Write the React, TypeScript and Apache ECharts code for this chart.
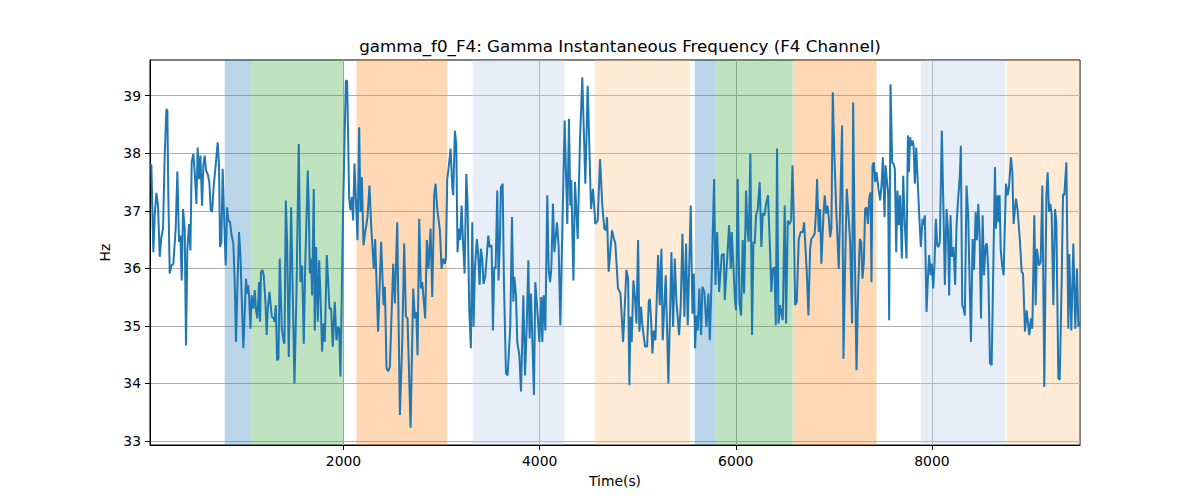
import React, { useEffect, useRef } from "react";
import * as echarts from "echarts";

const titleText = "gamma_f0_F4: Gamma Instantaneous Frequency (F4 Channel)";
const xName = "Time(s)";
const yName = "Hz";
const xTickValues = [2000, 4000, 6000, 8000];
const yTickValues = [33, 34, 35, 36, 37, 38, 39];

const times = [
  27, 41, 61, 75, 92, 109, 126, 143, 160, 177, 194, 204, 214, 228, 245, 265, 289, 306, 323, 337,
  350, 364, 381, 394, 408, 425, 439, 452, 469, 486, 500, 513, 527, 541, 558, 571, 585, 598, 615, 632,
  646, 660, 677, 697, 717, 731, 741, 755, 768, 782, 799, 813, 826, 843, 860, 877, 891, 904, 918, 935,
  949, 966, 979, 993, 1006, 1017, 1027, 1037, 1051, 1064, 1081, 1095, 1108, 1122, 1139, 1149, 1159, 1173, 1187, 1204,
  1217, 1228, 1245, 1269, 1289, 1296, 1310, 1323, 1337, 1350, 1371, 1391, 1398, 1412, 1425, 1442, 1466, 1483, 1500, 1520,
  1544, 1561, 1578, 1595, 1609, 1636, 1646, 1656, 1670, 1680, 1697, 1707, 1721, 1738, 1752, 1765, 1782, 1796, 1809, 1830,
  1857, 1874, 1891, 1911, 1928, 1945, 1956, 1969, 1996, 2024, 2037, 2058, 2071, 2085, 2098, 2112, 2143, 2160, 2173, 2187,
  2204, 2221, 2245, 2265, 2282, 2309, 2323, 2353, 2384, 2408, 2422, 2439, 2456, 2473, 2507, 2524, 2548, 2575, 2599, 2619,
  2636, 2653, 2684, 2711, 2728, 2742, 2755, 2772, 2789, 2803, 2833, 2850, 2867, 2888, 2905, 2925, 2939, 2956, 2983, 3000,
  3017, 3034, 3044, 3058, 3071, 3092, 3109, 3119, 3136, 3150, 3163, 3177, 3190, 3204, 3221, 3235, 3252, 3265, 3282, 3299,
  3313, 3326, 3340, 3360, 3374, 3388, 3401, 3415, 3428, 3445, 3462, 3476, 3490, 3510, 3524, 3537, 3551, 3568, 3581, 3595,
  3605, 3623, 3636, 3657, 3674, 3701, 3718, 3732, 3742, 3759, 3772, 3793, 3810, 3823, 3834, 3851, 3868, 3885, 3898, 3912,
  3925, 3942, 3956, 3973, 3997, 4017, 4027, 4041, 4058, 4078, 4092, 4106, 4119, 4136, 4150, 4177, 4194, 4211, 4255, 4282,
  4299, 4313, 4323, 4344, 4361, 4388, 4412, 4435, 4466, 4490, 4524, 4544, 4568, 4592, 4616, 4639, 4660, 4677, 4687, 4704,
  4738, 4758, 4772, 4799, 4810, 4824, 4851, 4885, 4902, 4915, 4926, 4939, 4956, 4973, 4987, 5004, 5017, 5034, 5048, 5075,
  5096, 5113, 5123, 5136, 5150, 5164, 5181, 5208, 5225, 5242, 5255, 5286, 5313, 5344, 5361, 5378, 5395, 5422, 5439, 5456,
  5476, 5493, 5510, 5541, 5558, 5572, 5585, 5599, 5612, 5629, 5646, 5660, 5680, 5701, 5721, 5735, 5752, 5779, 5793, 5810,
  5830, 5857, 5878, 5888, 5932, 5949, 5959, 5993, 6003, 6020, 6037, 6054, 6071, 6085, 6105, 6119, 6132, 6149, 6166, 6180,
  6193, 6207, 6224, 6244, 6261, 6275, 6292, 6309, 6329, 6350, 6363, 6377, 6394, 6408, 6421, 6435, 6452, 6465, 6479, 6499,
  6513, 6530, 6547, 6564, 6578, 6591, 6605, 6622, 6642, 6663, 6683, 6697, 6710, 6724, 6741, 6758, 6771, 6785, 6805, 6819,
  6829, 6846, 6860, 6873, 6894, 6907, 6921, 6935, 6948, 6962, 6975, 6989, 7006, 7023, 7050, 7064, 7084, 7098, 7115, 7132,
  7152, 7166, 7186, 7197, 7214, 7231, 7248, 7265, 7279, 7292, 7306, 7319, 7333, 7347, 7360, 7374, 7384, 7394, 7408, 7421,
  7435, 7455, 7472, 7486, 7500, 7517, 7527, 7540, 7554, 7564, 7578, 7595, 7608, 7622, 7636, 7649, 7663, 7676, 7693, 7707,
  7724, 7741, 7755, 7765, 7778, 7789, 7802, 7812, 7826, 7840, 7857, 7870, 7887, 7904, 7914, 7928, 7945, 7962, 7972, 7986,
  7999, 8013, 8027, 8040, 8054, 8067, 8081, 8101, 8118, 8132, 8149, 8163, 8176, 8190, 8203, 8220, 8237, 8251, 8265, 8285,
  8295, 8309, 8322, 8336, 8353, 8370, 8380, 8398, 8415, 8429, 8446, 8459, 8473, 8487, 8500, 8517, 8531, 8548, 8561, 8575,
  8592, 8609, 8626, 8643, 8653, 8670, 8680, 8690, 8701, 8714, 8731, 8755, 8772, 8786, 8806, 8820, 8833, 8857, 8874, 8898,
  8915, 8929, 8949, 8966, 8993, 9010, 9024, 9044, 9058, 9071, 9092, 9109, 9126, 9146, 9167, 9180, 9194, 9207, 9221, 9238,
  9255, 9269, 9289, 9303, 9323, 9337, 9350, 9371, 9391, 9401, 9422, 9442, 9462, 9479, 9493, 9510,
];

const values = [
  37.82, 37.79, 36.28, 36.92, 37.31, 37.09, 36.2, 36.54, 36.69, 37.96, 38.77, 38.74, 37.27, 35.91, 36.05, 36.08, 36.69, 37.68, 36.46, 36.57,
  35.79, 37.03, 36.69, 34.66, 36.34, 36.77, 36.31, 37.84, 37.99, 37.58, 37.12, 38.1, 37.55, 37.96, 37.09, 37.79, 37.96, 37.7, 37.64, 37.5,
  37.01, 36.98, 37.44, 37.79, 38.19, 37.79, 36.37, 36.46, 37.73, 36.92, 36.05, 37.06, 36.83, 36.8, 36.57, 36.43, 35.76, 34.72, 35.65, 36.63,
  36.23, 35.3, 34.61, 35.24, 35.82, 35.56, 35.71, 35.53, 34.95, 35.53, 35.3, 35.62, 35.27, 35.13, 35.76, 35.07, 35.94, 35.97, 35.88, 35.42,
  34.84, 35.3, 35.59, 35.16, 35.13, 35.07, 35.36, 34.4, 34.43, 36.17, 34.95, 34.72, 34.69, 37.18, 36.46, 34.46, 37.06, 35.53, 34.0, 35.53,
  38.16, 35.76, 36.05, 34.69, 35.99, 37.7, 37.09, 35.91, 36.17, 35.53, 37.38, 34.92, 36.37, 35.07, 36.14, 35.53, 34.55, 35.04, 34.72, 36.23,
  35.3, 35.3, 34.64, 35.42, 34.75, 34.98, 34.95, 34.12, 37.03, 39.26, 39.26, 37.21, 37.01, 37.24, 36.83, 37.82, 36.49, 38.45, 36.98, 37.58,
  36.4, 36.63, 36.89, 37.44, 36.75, 35.99, 36.51, 34.9, 36.46, 35.36, 35.68, 34.26, 34.21, 34.29, 36.08, 35.39, 36.8, 33.45, 34.72, 36.43,
  35.16, 35.13, 33.23, 35.65, 35.13, 35.24, 34.49, 36.86, 35.65, 35.76, 35.13, 36.49, 35.99, 36.69, 35.5, 37.27, 37.47, 37.03, 36.66, 35.99,
  36.17, 36.08, 36.17, 37.55, 37.73, 38.08, 37.41, 37.27, 38.39, 38.16, 36.28, 36.69, 36.49, 37.09, 36.37, 35.91, 37.64, 37.15, 35.3, 34.61,
  36.8, 34.98, 35.99, 36.51, 36.23, 35.71, 36.34, 36.17, 35.73, 35.85, 36.23, 36.57, 36.37, 36.4, 34.92, 36.02, 35.99, 37.35, 35.79, 36.51,
  37.41, 37.47, 35.76, 34.17, 34.14, 35.01, 36.89, 35.42, 35.85, 35.53, 34.72, 34.49, 33.86, 34.78, 35.53, 34.14, 34.98, 36.14, 34.78, 35.56,
  34.81, 33.8, 35.76, 35.36, 34.72, 35.5, 34.72, 35.53, 34.92, 37.27, 35.99, 35.76, 35.99, 37.12, 36.28, 36.8, 36.37, 35.01, 38.57, 36.77,
  38.6, 37.09, 37.53, 35.79, 37.5, 36.51, 38.25, 39.32, 37.47, 39.17, 37.03, 37.38, 36.77, 36.83, 37.9, 37.09, 36.69, 36.66, 36.89, 35.94,
  36.66, 36.51, 36.43, 35.65, 35.62, 35.56, 34.72, 35.97, 35.82, 33.97, 35.16, 34.72, 35.79, 35.47, 35.04, 36.49, 34.9, 35.33, 35.01, 34.64,
  34.64, 35.42, 35.47, 35.13, 34.52, 34.92, 34.75, 36.23, 35.36, 36.34, 34.75, 35.88, 34.0, 36.28, 34.98, 36.17, 35.42, 34.84, 35.36, 36.6,
  35.16, 36.43, 35.01, 37.09, 35.21, 35.91, 34.61, 35.18, 34.92, 35.65, 34.84, 35.68, 35.59, 34.98, 35.56, 34.75, 35.71, 37.55, 35.71, 36.63,
  35.59, 36.23, 36.25, 35.45, 36.75, 35.99, 36.63, 35.42, 35.27, 37.55, 35.42, 35.18, 36.49, 35.56, 37.35, 36.69, 36.46, 37.99, 34.84, 36.46,
  36.43, 36.92, 37.03, 37.5, 36.37, 36.95, 36.92, 37.12, 37.27, 36.28, 35.59, 35.99, 36.02, 35.01, 38.08, 35.04, 35.36, 35.21, 35.1, 37.09,
  35.04, 36.83, 36.77, 36.83, 37.79, 36.92, 35.36, 35.42, 36.51, 36.63, 36.63, 36.8, 36.37, 35.94, 35.18, 36.34, 36.51, 36.54, 36.6, 37.03,
  37.55, 36.63, 37.03, 36.08, 36.92, 37.27, 36.95, 37.09, 36.89, 36.54, 36.69, 39.06, 37.93, 37.09, 35.99, 37.03, 38.48, 34.43, 36.05, 37.38,
  36.86, 36.46, 35.04, 38.88, 36.23, 34.23, 35.65, 36.51, 36.46, 35.82, 36.11, 37.03, 37.06, 36.77, 37.21, 37.32, 35.76, 37.79, 37.84, 37.5,
  37.67, 37.38, 37.18, 37.44, 37.93, 36.89, 37.79, 37.55, 37.29, 35.1, 39.2, 37.84, 37.82, 37.73, 36.28, 37.35, 36.75, 37.27, 36.17, 37.61,
  36.75, 36.17, 38.31, 37.67, 38.28, 38.13, 38.22, 38.16, 37.47, 38.1, 37.44, 36.95, 36.37, 36.86, 36.75, 36.92, 35.24, 35.94, 36.23, 35.88,
  36.08, 35.65, 36.11, 36.86, 36.4, 36.37, 36.46, 38.39, 37.01, 35.71, 37.03, 36.69, 35.53, 36.92, 36.2, 36.37, 35.71, 36.75, 37.15, 37.61,
  38.13, 35.36, 35.3, 35.18, 37.44, 36.92, 36.11, 34.72, 36.51, 35.97, 36.98, 36.49, 37.12, 36.54, 35.13, 36.92, 35.88, 36.4, 36.43, 35.94,
  34.35, 34.32, 36.02, 37.76, 36.69, 37.27, 36.8, 37.27, 36.34, 36.08, 35.88, 37.47, 37.27, 37.41, 37.93, 37.67, 36.77, 37.21, 37.01, 36.46,
  35.94, 35.91, 34.9, 35.27, 34.84, 35.13, 34.95, 36.92, 35.36, 36.34, 36.05, 36.11, 37.44, 33.94, 37.27, 37.67, 36.98, 37.12, 36.95, 35.36,
  37.03, 36.8, 34.09, 34.06, 35.76, 37.29, 37.27, 37.84, 34.95, 36.25, 34.92, 36.43, 34.95, 35.99, 34.98, 35.07,
];

const bandStarts = [789, 1054, 2132, 3316, 4561, 5582, 5789, 6584, 7887, 8762];
const bandEnds = [1054, 2003, 3058, 4252, 5531, 5789, 6581, 7435, 8748, 9510];
const bandKinds = [0, 1, 2, 3, 4, 0, 1, 2, 3, 4];
const bandColors = [
  "rgba(31,119,180,0.3)",
  "rgba(44,160,44,0.3)",
  "rgba(255,127,14,0.3)",
  "rgba(174,199,232,0.3)",
  "rgba(255,187,120,0.3)",
];

const X_MIN = 27;
const X_MAX = 9510;
const Y_MIN = 32.93;
const Y_MAX = 39.62;

export default function App() {
  const ref = useRef<HTMLDivElement>(null);

  useEffect(() => {
    if (!ref.current) return;
    const chart = echarts.init(ref.current, undefined, { renderer: "svg" });
    const font = "DejaVu Sans";
    const lineData = times.map((t, i) => [t, values[i]]);
    const bandData = bandStarts.map((s, i) => [s, bandEnds[i], bandKinds[i]]);

    chart.setOption({
      animation: false,
      backgroundColor: "#ffffff",
      title: {
        text: titleText,
        left: 615,
        top: 32,
        textAlign: "center",
        textStyle: { fontFamily: font, fontSize: 16.7, fontWeight: "normal", color: "#000" },
      },
      grid: {
        left: 150,
        top: 60,
        width: 930,
        height: 385,
        show: true,
        borderColor: "#000",
        borderWidth: 1,
        backgroundColor: "transparent",
      },
      xAxis: {
        type: "value",
        min: X_MIN,
        max: X_MAX,
        splitNumber: 5,
        name: xName,
        nameLocation: "middle",
        nameGap: 29,
        nameTextStyle: { fontFamily: font, fontSize: 13.9, color: "#000" },
        axisLine: { show: true, lineStyle: { color: "#000", width: 1 } },
        axisTick: {
          show: true,
          length: 5,
          inside: false,
          customValues: xTickValues,
          lineStyle: { color: "#000", width: 1 },
        },
        axisLabel: {
          customValues: xTickValues,
          formatter: (v: number) => String(v),
          fontFamily: font,
          fontSize: 13.9,
          color: "#000",
          margin: 9,
        },
        splitLine: { show: true, lineStyle: { color: "#b0b0b0", width: 1 } },
      },
      yAxis: {
        type: "value",
        min: Y_MIN,
        max: Y_MAX,
        splitNumber: 5,
        name: yName,
        nameLocation: "middle",
        nameGap: 29,
        nameTextStyle: { fontFamily: font, fontSize: 13.9, color: "#000" },
        axisLine: { show: true, lineStyle: { color: "#000", width: 1 } },
        axisTick: {
          show: true,
          length: 5,
          inside: false,
          customValues: yTickValues,
          lineStyle: { color: "#000", width: 1 },
        },
        axisLabel: {
          customValues: yTickValues,
          formatter: (v: number) => String(v),
          fontFamily: font,
          fontSize: 13.9,
          color: "#000",
          margin: 9,
        },
        splitLine: { show: true, lineStyle: { color: "#b0b0b0", width: 1 } },
      },
      series: [
        {
          type: "custom",
          z: 1,
          clip: true,
          silent: true,
          encode: { x: [0, 1] },
          data: bandData,
          renderItem: (params: any, api: any) => {
            const cs = params.coordSys;
            const p0 = api.coord([api.value(0), Y_MAX]);
            const p1 = api.coord([api.value(1), Y_MAX]);
            return {
              type: "rect",
              shape: { x: p0[0], y: cs.y, width: p1[0] - p0[0], height: cs.height },
              style: { fill: bandColors[api.value(2)], stroke: null },
            };
          },
        },
        {
          type: "line",
          z: 3,
          data: lineData,
          showSymbol: false,
          clip: true,
          lineStyle: { color: "#1f77b4", width: 2 },
          itemStyle: { color: "#1f77b4" },
        },
      ],
    });

    return () => chart.dispose();
  }, []);

  return (
    <div
      ref={ref}
      style={{ position: "fixed", left: 0, top: 0, width: 1200, height: 500, background: "#fff" }}
    />
  );
}
